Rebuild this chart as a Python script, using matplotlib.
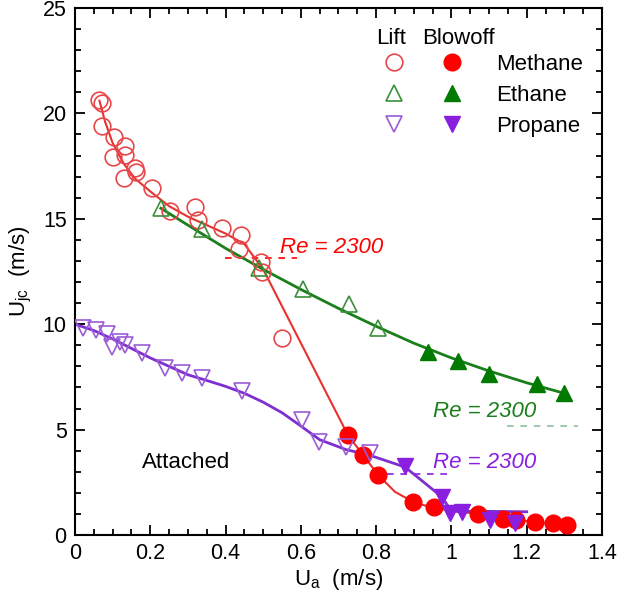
import matplotlib
matplotlib.use("Agg")
import matplotlib.pyplot as plt
from matplotlib.lines import Line2D
from matplotlib.ticker import MultipleLocator, FuncFormatter

plt.rcParams['font.family'] = ['Liberation Sans', 'DejaVu Sans']
plt.rcParams['mathtext.fontset'] = 'custom'
plt.rcParams['mathtext.rm'] = 'Liberation Sans'
plt.rcParams['mathtext.it'] = 'Liberation Sans:italic'

# methane
methane_lift_x = [0.064, 0.072, 0.072, 0.104, 0.133, 0.101, 0.133, 0.130, 0.159, 0.162,
                  0.205, 0.252, 0.319, 0.327, 0.391, 0.441, 0.436, 0.494, 0.497, 0.550]
methane_lift_y = [20.64, 20.49, 19.40, 18.88, 18.45, 17.93, 18.03, 16.94, 17.41, 17.22,
                  16.46, 15.37, 15.56, 14.94, 14.56, 14.23, 13.57, 12.95, 12.48, 9.35]
methane_blow_x = [0.725, 0.765, 0.805, 0.898, 0.954, 1.071, 1.137, 1.172, 1.222, 1.270, 1.307]
methane_blow_y = [4.74, 3.80, 2.85, 1.57, 1.33, 1.00, 0.76, 0.71, 0.62, 0.57, 0.47]
methane_fit_x = [0.065, 0.08, 0.10, 0.13, 0.16, 0.20, 0.25, 0.30, 0.35, 0.40, 0.45, 0.50,
                 0.725, 0.765, 0.805, 0.85, 0.90, 0.95, 1.00, 1.07, 1.14, 1.22, 1.30]
methane_fit_y = [20.6, 19.6, 18.6, 17.6, 16.9, 16.3, 15.6, 15.1, 14.7, 14.3, 13.8, 12.6,
                 4.74, 3.80, 2.85, 2.05, 1.55, 1.30, 1.15, 1.00, 0.80, 0.62, 0.50]

# ethane
ethane_lift_x = [0.228, 0.337, 0.489, 0.606, 0.728, 0.805]
ethane_lift_y = [15.51, 14.52, 12.67, 11.67, 10.96, 9.82]
ethane_blow_x = [0.938, 1.018, 1.100, 1.227, 1.299]
ethane_blow_y = [8.68, 8.25, 7.64, 7.16, 6.74]
ethane_fit_x = [0.228, 0.3, 0.4, 0.5, 0.6, 0.7, 0.8, 0.9, 1.0, 1.1, 1.2, 1.3]
ethane_fit_y = [15.5, 14.7, 13.6, 12.6, 11.65, 10.75, 9.9, 9.1, 8.4, 7.78, 7.22, 6.72]

# propane
propane_lift_x = [0.021, 0.056, 0.085, 0.098, 0.120, 0.133, 0.178, 0.239, 0.284, 0.337,
                  0.444, 0.603, 0.648, 0.720, 0.784]
propane_lift_y = [9.82, 9.72, 9.54, 8.92, 9.16, 9.01, 8.63, 7.92, 7.69, 7.45,
                  6.83, 5.46, 4.41, 4.17, 3.89]
propane_blow_x = [0.877, 0.975, 0.996, 1.028, 1.103, 1.169]
propane_blow_y = [3.27, 1.80, 1.04, 1.09, 0.71, 0.57]
propane_fit_x = [0.0, 0.05, 0.1, 0.15, 0.2, 0.3, 0.35, 0.4, 0.45, 0.5, 0.55, 0.6, 0.65,
                 0.72, 0.78, 0.877, 0.975, 1.0, 1.1, 1.2]
propane_fit_y = [10.0, 9.7, 9.3, 8.85, 8.4, 7.6, 7.33, 7.05, 6.72, 6.3, 5.8, 5.17, 4.52,
                 4.05, 3.8, 3.22, 1.80, 1.12, 1.12, 1.1]

# Re = 2300 markers: (y, x0, x1, text x, text y)
re_red = (13.14, 0.399, 0.59, 0.545, 13.66)
re_green = (5.17, 1.148, 1.336, 0.951, 5.88)
re_purple = (2.89, 0.829, 0.991, 0.951, 3.46)

red_line, red_open, red_fill = '#e8312f', '#e8474a', '#ff0000'
green_line, green_open, green_fill = '#1a7f1a', '#3a8f3a', '#007a00'
purple_line, purple_open, purple_fill = '#7f2fd0', '#9a5cd6', '#8a1fe0'

fig = plt.figure(figsize=(6.27, 5.98), dpi=100)
ax = fig.add_axes([0.1196, 0.1054, 0.8405, 0.8812])

ms = 12
ax.plot(methane_fit_x, methane_fit_y, color=red_line, lw=1.5, zorder=2)
ax.plot(ethane_fit_x, ethane_fit_y, color=green_line, lw=2, zorder=2)
ax.plot(propane_fit_x, propane_fit_y, color=purple_line, lw=2, zorder=2)

ax.plot(methane_lift_x, methane_lift_y, 'o', ms=ms, mfc='none', mec=red_open, mew=1.2, zorder=3)
ax.plot(methane_blow_x, methane_blow_y, 'o', ms=ms, mfc=red_fill, mec=red_fill, zorder=3)
ax.plot(ethane_lift_x, ethane_lift_y, '^', ms=ms, mfc='none', mec=green_open, mew=1.2, zorder=3)
ax.plot(ethane_blow_x, ethane_blow_y, '^', ms=ms, mfc=green_fill, mec=green_fill, zorder=3)
ax.plot(propane_lift_x, propane_lift_y, 'v', ms=ms, mfc='none', mec=purple_open, mew=1.2, zorder=3)
ax.plot(propane_blow_x, propane_blow_y, 'v', ms=ms, mfc=purple_fill, mec=purple_fill, zorder=3)

for (yy, x0, x1, tx, ty), c, lc in [(re_red, red_fill, red_fill),
                                    (re_green, green_line, '#8fbf9f'),
                                    (re_purple, purple_fill, purple_fill)]:
    ax.hlines(yy, x0, x1, colors=lc, linestyles=(0, (4, 4)), lw=1.2, zorder=1)
    ax.text(tx, ty, 'Re = 2300', color=c, fontsize=16, style='italic', va='center', ha='left')

ax.text(0.178, 3.42, 'Attached', fontsize=16, va='center', ha='left')

# legend
handles = [
    Line2D([], [], ls='none', marker='o', ms=ms, mfc='none', mec=red_open, mew=1.2),
    Line2D([], [], ls='none', marker='^', ms=ms, mfc='none', mec=green_open, mew=1.2),
    Line2D([], [], ls='none', marker='v', ms=ms, mfc='none', mec=purple_open, mew=1.2),
    Line2D([], [], ls='none', marker='o', ms=ms, mfc=red_fill, mec=red_fill),
    Line2D([], [], ls='none', marker='^', ms=ms, mfc=green_fill, mec=green_fill),
    Line2D([], [], ls='none', marker='v', ms=ms, mfc=purple_fill, mec=purple_fill),
]
labels = ['', '', '', 'Methane', 'Ethane', 'Propane']
ax.legend(handles, labels, ncol=2, loc='upper left', bbox_to_anchor=(0.584, 0.913),
          frameon=False, fontsize=16, handlelength=1.0, handletextpad=1.5,
          columnspacing=0.1, labelspacing=0.45, borderpad=0, borderaxespad=0)
ax.text(0.6006, 0.943, 'Lift', transform=ax.transAxes, fontsize=16, ha='center', va='center')
ax.text(0.727, 0.943, 'Blowoff', transform=ax.transAxes, fontsize=16, ha='center', va='center')

ax.set_xlim(0, 1.4)
ax.set_ylim(0, 25)
ax.xaxis.set_major_locator(MultipleLocator(0.2))
ax.xaxis.set_minor_locator(MultipleLocator(0.05))
ax.yaxis.set_major_locator(MultipleLocator(5))
ax.yaxis.set_minor_locator(MultipleLocator(1))
ax.xaxis.set_major_formatter(FuncFormatter(lambda v, p: '%g' % round(v, 2)))
ax.tick_params(which='both', direction='in', top=True, right=True, labelsize=15.5, width=1.3)
ax.tick_params(which='major', length=7, pad=6)
ax.tick_params(which='minor', length=4)
for s in ax.spines.values():
    s.set_linewidth(1.5)

ax.set_xlabel(r'U$_\mathrm{a}$  (m/s)', fontsize=16, labelpad=2)
ax.set_ylabel(r'U$_\mathrm{jc}$  (m/s)', fontsize=16, labelpad=6)

fig.savefig('out.png', dpi=100)
